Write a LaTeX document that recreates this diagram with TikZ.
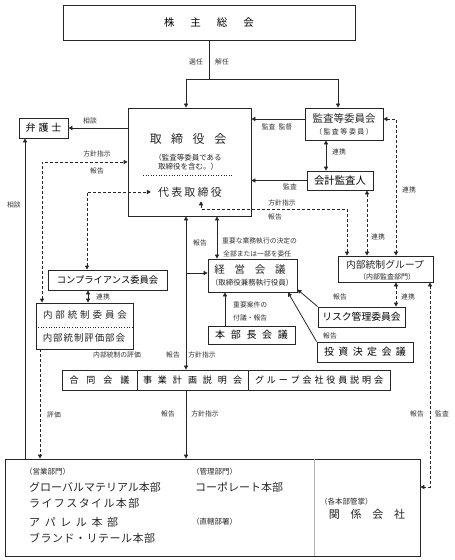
\documentclass[tikz,border=0pt]{standalone}
\usepackage{fontspec}
\setmainfont{Noto Sans CJK JP}
\usetikzlibrary{arrows.meta}
\makeatletter
\newcommand{\spread}[2]{\def\sp@first{1}\@tfor\sp@c:=#2\do{\ifnum\sp@first=1 \def\sp@first{0}\else\hspace{#1}\fi\sp@c}}
\makeatother
\newcommand{\fs}[1]{\fontsize{#1}{#1}\selectfont}
\tikzset{
  box/.style={draw=black!85, line width=0.9pt, inner sep=0pt},
  txt/.style={inner sep=0pt, text=black!85},
  lbl/.style={inner sep=0pt, font=\fs{6.8}, text=black!80},
  ln/.style={draw=black!85, line width=0.8pt},
  dl/.style={draw=black!85, line width=0.9pt, dash pattern=on 3pt off 2pt},
  >={Triangle[length=4pt,width=4.2pt]}
}
\begin{document}
\begin{tikzpicture}[x=1pt,y=-1pt]
\useasboundingbox (0,0) rectangle (455,560);
% column / row helpers
\coordinate (cA) at (186,0);
\coordinate (cB) at (217,0);
\coordinate (cK) at (338,0);
\coordinate (cL) at (25,0);
\coordinate (cD1) at (42,162);
\coordinate (cD2) at (87,193);
\coordinate (cD3) at (347,209);
\coordinate (cD3b) at (201,209);
\coordinate (cY1) at (0,119);
\coordinate (cY2) at (0,273);
\coordinate (cR1) at (326,0);
\coordinate (cR2) at (367,0);
\coordinate (cR3) at (396,119);
\coordinate (cR4) at (430,487);
\coordinate (cH) at (225,0);
\coordinate (cT) at (288,0);
\coordinate (cC) at (88,0);
\coordinate (cE) at (40,0);
\coordinate (cDiv) at (314,0);

% boxes
\node[box, minimum width=292pt, minimum height=35pt] (kabu) at (209,22.5) {\fs{10.5}\spread{16pt}{株主総会}};
\node[box, minimum width=123pt, minimum height=108pt] (tori) at (189.5,162) {};
\node[txt, font=\fs{12}] (toriT) at (188,139) {\spread{9.5pt}{取締役会}};
\node[txt, font=\fontsize{7.5}{9.5}\selectfont, align=center] (toriN) at (188,162) {（監査等委員である\\取締役を含む。）};
\node[txt, inner sep=1pt, font=\fs{11}] (daihyo) at (190,192) {\spread{2.2pt}{代表取締役}};
\draw[black!85, dotted, line width=0.6pt] (143,175) -- (233,175);

\node[box, minimum width=49pt, minimum height=20pt] (bengo) at (43.5,128) {\fs{10}\spread{3pt}{弁護士}};

\node[box, minimum width=78pt, minimum height=32pt] (kansa) at (344,124) {};
\node[txt, font=\fs{10.5}] (kansaT) at (344,118) {監査等委員会};
\node[txt, font=\fs{7}] (kansaN) at (344,132) {\spread{1.5pt}{（監査等委員）}};

\node[box, minimum width=66pt, minimum height=19pt] (kaikei) at (340,180.5) {\fs{10.4}会計監査人};

\node[box, minimum width=95pt, minimum height=26pt] (ngroup) at (385.5,269) {};
\node[txt, font=\fs{9.8}] (ngroupT) at (385,265) {内部統制グループ};
\node[txt, font=\fs{7}] (ngroupN) at (387,277) {（内部監査部門）};

\node[box, minimum width=89pt, minimum height=33pt] (keiei) at (252.5,275.5) {};
\node[txt, font=\fs{10.5}] (keieiT) at (250,270) {\spread{9.8pt}{経営会議}};
\node[txt, font=\fs{7.5}] (keieiN) at (252,282.5) {（取締役兼務執行役員）};

\node[box, minimum width=87pt, minimum height=18pt] (honbu) at (251.5,335) {\fs{10}\spread{5.7pt}{本部長会議}};
\node[box, minimum width=87pt, minimum height=20pt] (risk) at (361.5,317) {\fs{9.8}リスク管理委員会};
\node[box, minimum width=96pt, minimum height=20pt] (toshi) at (365,352) {\fs{10}\spread{4.4pt}{投資決定会議}};

\node[box, minimum width=119pt, minimum height=20pt] (comp) at (107.5,280) {\fs{9.3}コンプライアンス委員会};
\node[box, minimum width=97pt, minimum height=46pt] (naibu) at (84.5,326) {};
\node[txt, font=\fs{9.5}] (naibuT) at (85,315) {\spread{2.9pt}{内部統制委員会}};
\node[txt, font=\fs{9.5}] (naibuB) at (84,338) {\spread{0.9pt}{内部統制評価部会}};
\draw[black!85, dotted, line width=0.6pt] (naibu.west |- 0,327) -- (naibu.east |- 0,327);

\node[box, minimum width=75pt, minimum height=20pt] (godo1) at (99.5,380) {\fs{9}\spread{8pt}{合同会議}};
\node[box, minimum width=111pt, minimum height=20pt] (godo2) at (192.5,380) {\fs{9}\spread{6pt}{事業計画説明会}};
\node[box, minimum width=142pt, minimum height=20pt] (godo3) at (319,380) {\fs{9}\spread{2.9pt}{グループ会社役員説明会}};

\node[box, minimum width=415pt, minimum height=97pt] (bottom) at (212.5,507.5) {};
\draw[black!30, line width=0.6pt] (bottom.north -| cDiv) -- (bottom.south -| cDiv);
\node[txt, anchor=west, font=\fs{7.5}] (eigyo) at (25,472) {（営業部門）};
\node[txt, anchor=west, font=\fs{11}] (gm) at (29,487) {グローバルマテリアル本部};
\node[txt, anchor=west, font=\fs{11}] (ls) at (29,503) {\spread{1.4pt}{ライフスタイル本部}};
\node[txt, anchor=west, font=\fs{11}] (ap) at (29,522) {\spread{4.6pt}{アパレル本部}};
\node[txt, anchor=west, font=\fs{11}] (br) at (29,538) {\spread{0.5pt}{ブランド・リテール本部}};
\node[txt, anchor=west, font=\fs{7.5}] (kanri) at (192,472) {（管理部門）};
\node[txt, anchor=west, font=\fs{11}] (corp) at (195,487) {コーポレート本部};
\node[txt, anchor=west, font=\fs{7.5}] (chok) at (192,522) {（直轄部署）};
\node[txt, anchor=west, font=\fs{7.5}] (kakuh) at (320,502) {（各本部管掌）};
\node[txt, font=\fs{11}] (kankei) at (367,514) {\spread{10.7pt}{関係会社}};

% connectors
\coordinate (split) at (kabu.south |- 0,79);
\draw[ln] (kabu.south) -- (split);
\draw[ln,->] (split) -| (tori.north -| cA);
\draw[ln,->] (split) -| (kansa.north -| cK);
\node[lbl, anchor=east] (l1) at (203,62) {選任};
\node[lbl, anchor=west] (l2) at (215,62) {解任};

\draw[ln,->] (tori.west |- bengo) -- (bengo.east);
\node[lbl] (l3) at (90,121) {相談};
\draw[ln,->] (bottom.north -| cL) -- (bengo.south -| cL);
\node[lbl] (l4) at (14,205) {相談};

\draw[dl,<->] (naibu.north -| cD1) |- (tori.west |- cD1);
\node[lbl] (l5) at (97,154) {方針指示};
\node[lbl] (l6) at (97,171) {報告};

\draw[dl,<->] (comp.north -| cD2) |- ([xshift=-6pt]daihyo.west);

\draw[dl,<->] (ngroup.north -| cD3) -- (cD3) -- (cD3b) -- ([yshift=-3pt]daihyo.south -| cD3b);
\node[lbl] (l7) at (282,203) {方針指示};
\node[lbl] (l8) at (275,217) {報告};

\draw[ln,->] (kansa.west |- cY1) -- (tori.east |- cY1);
\node[lbl] (l9) at (277,127) {監査\hspace{3pt}監督};
\draw[ln,->] (kaikei.west) -- (tori.east |- kaikei.west);
\node[lbl] (l10) at (290,187) {監査};
\draw[ln,<->] (kansa.south -| cR1) -- (kaikei.north -| cR1);
\node[lbl] (l11) at (339,152) {連携};

\draw[dl,<->] (kaikei.south -| cR2) -- (ngroup.north -| cR2);
\node[lbl] (l12) at (378,237) {連携};
\draw[dl,<->] (kansa.east |- cR3) -| (ngroup.north -| cR3);
\node[lbl] (l13) at (409,190) {連携};
\draw[dl,<->] (ngroup.south -| cR3) -- (risk.north -| cR3);
\node[lbl] (l14) at (408,297) {連携};
\draw[dl,<->] (ngroup.south -| cR4) |- (bottom.east |- cR4);
\node[lbl] (l15) at (417,414) {報告};
\node[lbl] (l16) at (442,414) {監査};

\draw[ln,<->] (tori.south -| cB) -- (keiei.north -| cB);
\node[lbl] (l17) at (200,243) {報告};
\node[lbl, anchor=west] (l18) at (222,241) {重要な業務執行の決定の};
\node[lbl, anchor=west] (l19) at (223,254) {全部または一部を委任};

\draw[ln,<->] (tori.south -| cA) -- (godo2.north -| cA);
\draw[ln,->] (cA |- cY2) -- (keiei.west |- cY2);
\node[lbl] (l20) at (173,355) {報告};
\node[lbl] (l21) at (202,355) {方針指示};

\draw[ln,->] (honbu.north -| cH) -- (keiei.south -| cH);
\node[lbl, anchor=west] (l22) at (233,305) {重要案件の};
\node[lbl, anchor=west] (l23) at (233,318) {付議・報告};

\draw[ln,->] (risk.north west) -- ([yshift=3pt]keiei.south east);
\node[lbl] (l24) at (340,297) {報告};
\draw[ln,->] (toshi.north west) -- (keiei.south -| cT);
\node[lbl] (l25) at (330,336) {報告};

\draw[ln,<->] (comp.south -| cC) -- (naibu.north -| cC);
\node[lbl, anchor=west] (l26) at (96,297) {連携};
\node[lbl] (l27) at (117,355) {内部統制の評価};

\draw[dl,->] (naibu.south -| cE) -- (bottom.north -| cE);
\node[lbl, anchor=west] (l28) at (47,415) {評価};

\draw[ln,->] (godo2.south -| cA) -- (bottom.north -| cA);
\node[lbl] (l29) at (168,414) {報告};
\node[lbl] (l30) at (205,414) {方針指示};
\end{tikzpicture}
\end{document}
